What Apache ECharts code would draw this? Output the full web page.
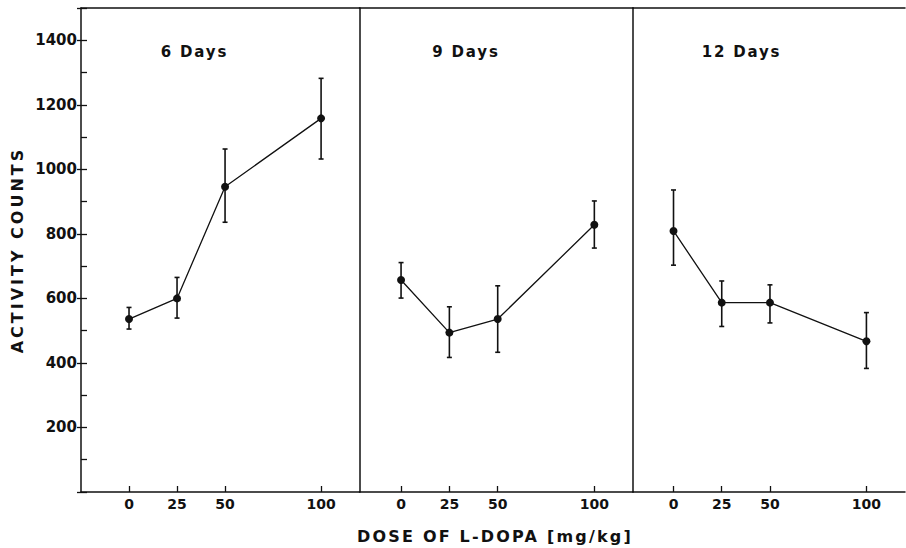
<!DOCTYPE html>
<html>
<head>
<meta charset="utf-8">
<script src="https://cdn.jsdelivr.net/npm/echarts@6/dist/echarts.min.js"></script>
<style>
  html, body { margin: 0; padding: 0; background: #ffffff; }
  #chart { width: 906px; height: 548px; }
  #chart text[style*="lsY"] { letter-spacing: 3px; }
  #chart text[style*="lsX"] { letter-spacing: 2.2px; }
  #chart text[style*="lsT"] { letter-spacing: 1.8px; }
</style>
</head>
<body>
<div id="chart"></div>
<script>
// ---- data ----
const doses = [0, 25, 50, 100];
const panelTitles = ['6 Days', '9 Days', '12 Days'];
const yTickLabels = [200, 400, 600, 800, 1000, 1200, 1400];

const mean6  = [536, 600, 946, 1158];
const low6   = [505, 539, 836, 1032];
const high6  = [572, 665, 1063, 1282];

const mean9  = [657, 494, 536, 828];
const low9   = [601, 417, 433, 756];
const high9  = [711, 574, 639, 902];

const mean12 = [809, 587, 587, 467];
const low12  = [703, 513, 524, 383];
const high12 = [936, 654, 642, 556];

const yTitle = 'ACTIVITY COUNTS';
const xTitle = 'DOSE OF L-DOPA [mg/kg]';

// ---- chart ----
const INK = '#111111';
const FONT = 'DejaVu Sans';
const means = [mean6, mean9, mean12];
const lows = [low6, low9, low12];
const highs = [high6, high9, high12];

const grids = [
  { left: 81,    right: 546.5, top: 8, bottom: 56 },
  { left: 359.5, right: 273,   top: 8, bottom: 56 },
  { left: 633,   right: 1,     top: 8, bottom: 56 }
];
const xRanges = [[-25, 120], [-21.5, 120], [-21, 120]];

const xAxes = [];
const yAxes = [];
const series = [];

grids.forEach((g, i) => {
  xAxes.push({
    type: 'value', gridIndex: i, position: 'bottom',
    min: xRanges[i][0], max: xRanges[i][1],
    axisLine: { show: true, onZero: false, lineStyle: { color: INK, width: 1.5 } },
    axisTick: { show: true, inside: true, length: 6, customValues: doses, lineStyle: { color: INK, width: 1.3 } },
    axisLabel: { show: true, customValues: doses, margin: 5, color: INK, fontSize: 14, fontWeight: 'bold', fontFamily: FONT },
    splitLine: { show: false }
  });
  yAxes.push({
    type: 'value', gridIndex: i, position: 'left', min: 0, max: 1500, interval: 100,
    axisLine: { show: true, onZero: false, lineStyle: { color: INK, width: 1.5 } },
    axisTick: { show: i === 0, inside: true, length: 6, lineStyle: { color: INK, width: 1.3 } },
    axisLabel: {
      show: i === 0, margin: 4, color: INK, fontSize: 15, fontWeight: 'bold', fontFamily: FONT,
      formatter: v => (yTickLabels.indexOf(v) >= 0 ? String(v) : '')
    },
    splitLine: { show: false },
    name: i === 0 ? yTitle : '',
    nameLocation: 'middle', nameGap: 56, nameRotate: 90,
    nameTextStyle: { color: INK, fontSize: 16, fontWeight: 'bold', fontFamily: FONT + ', lsY' }
  });
});
// top frame lines
grids.forEach((g, i) => {
  xAxes.push({
    type: 'value', gridIndex: i, position: 'top',
    min: xRanges[i][0], max: xRanges[i][1],
    axisLine: { show: true, onZero: false, lineStyle: { color: INK, width: 1.5 } },
    axisTick: { show: false }, axisLabel: { show: false }, splitLine: { show: false }
  });
});
// outside major ticks on left axis
yAxes.push({
  type: 'value', gridIndex: 0, position: 'left', min: 0, max: 1500, interval: 200,
  axisLine: { show: false, onZero: false },
  axisTick: { show: true, inside: false, length: 4, lineStyle: { color: INK, width: 1.3 } },
  axisLabel: { show: false }, splitLine: { show: false }
});

for (let i = 0; i < 3; i++) {
  series.push({
    type: 'custom', xAxisIndex: i, yAxisIndex: i, silent: true, z: 3,
    data: doses.map((d, k) => [d, lows[i][k], highs[i][k]]),
    renderItem: (params, api) => {
      const x = api.value(0);
      const pLo = api.coord([x, api.value(1)]);
      const pHi = api.coord([x, api.value(2)]);
      const w = 2.5;
      const st = { stroke: INK, lineWidth: 1.6 };
      return {
        type: 'group',
        children: [
          { type: 'line', shape: { x1: pLo[0], y1: pLo[1], x2: pHi[0], y2: pHi[1] }, style: st },
          { type: 'line', shape: { x1: pLo[0] - w, y1: pLo[1], x2: pLo[0] + w, y2: pLo[1] }, style: st },
          { type: 'line', shape: { x1: pHi[0] - w, y1: pHi[1], x2: pHi[0] + w, y2: pHi[1] }, style: st }
        ]
      };
    }
  });
  series.push({
    type: 'line', xAxisIndex: i, yAxisIndex: i, silent: true, z: 4,
    data: doses.map((d, k) => [d, means[i][k]]),
    symbol: 'circle', symbolSize: 8,
    itemStyle: { color: INK },
    lineStyle: { color: INK, width: 1.3 }
  });
}

const titleLeft = [194.5, 466, 741.5];
const titles = panelTitles.map((t, i) => ({
  text: t, left: titleLeft[i], top: 44, textAlign: 'center', padding: 0,
  textStyle: { color: INK, fontSize: 15, fontWeight: 'bold', fontFamily: FONT + ', lsT', lineHeight: 16 }
}));
titles.push({
  text: xTitle, left: 495, top: 527, textAlign: 'center', padding: 0,
  textStyle: { color: INK, fontSize: 16, fontWeight: 'bold', fontFamily: FONT + ', lsX', lineHeight: 18 }
});

const chart = echarts.init(document.getElementById('chart'), null, { renderer: 'svg' });
chart.setOption({
  backgroundColor: '#ffffff',
  animation: false,
  title: titles,
  grid: grids,
  xAxis: xAxes,
  yAxis: yAxes,
  series: series
});
</script>
</body>
</html>
